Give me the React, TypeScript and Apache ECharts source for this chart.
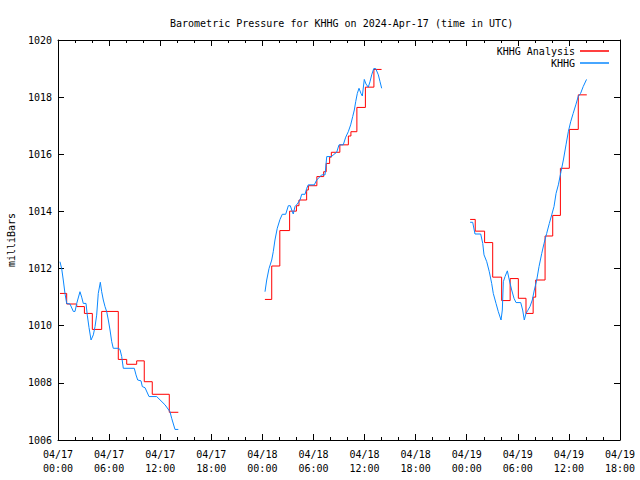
import React, { useEffect, useRef } from "react";
import * as echarts from "echarts";

// X values are hours since 2024-04-17 00:00 UTC
const xTickHours = [0, 6, 12, 18, 24, 30, 36, 42, 48, 54, 60, 66];
const yTicks = [1006, 1008, 1010, 1012, 1014, 1016, 1018, 1020];

// KHHG Analysis (red, stepped) — three periods
const redT1 = [0.23, 1.02, 2.2, 3.1, 4.03, 5.13, 7.08, 8.07, 9.24, 10.13, 11.07, 13.07, 14.13];
const redV1 = [1011.13, 1010.76, 1010.67, 1010.43, 1009.87, 1010.5, 1008.82, 1008.65, 1008.77, 1008.04, 1007.6, 1006.97, 1006.97];

const redT2 = [24.3, 25.1, 26.05, 27.2, 28.0, 28.3, 29.2, 29.4, 30.4, 31.2, 31.5, 31.9, 32.1, 33.1, 34.1, 34.4, 35.1, 36.1, 37.1, 38.0];
const redV2 = [1010.92, 1012.09, 1013.33, 1014.01, 1014.2, 1014.4, 1014.75, 1014.9, 1015.22, 1015.39, 1015.68, 1015.9, 1016.07, 1016.33, 1016.64, 1016.79, 1017.64, 1018.35, 1018.97, 1018.97];

const redT3 = [48.4, 49.0, 50.1, 51.05, 52.1, 53.1, 54.06, 54.96, 55.8, 56.1, 57.2, 58.1, 59.0, 60.05, 61.1, 62.1];
const redV3 = [1013.72, 1013.31, 1012.91, 1011.7, 1010.88, 1011.65, 1010.96, 1010.43, 1011.0, 1011.6, 1013.14, 1013.86, 1015.51, 1016.87, 1018.08, 1018.08];

// KHHG observations (blue) — three periods
const blueT1 = [0.23, 0.43, 0.62, 0.82, 1.02, 1.41, 1.8, 2.0, 2.2, 2.58, 2.78, 2.97, 3.29, 3.44, 3.64, 3.88, 4.15, 4.35, 4.54, 4.73, 4.97, 5.13, 5.32, 5.52, 5.72, 5.91, 6.11, 6.31, 6.49, 7.08, 7.28, 7.48, 7.67, 8.96, 9.16, 9.36, 9.75, 9.9, 10.22, 10.69, 11.59, 12.57, 13.15, 13.35, 13.74, 14.13];
const blueV1 = [1012.24, 1012.0, 1011.6, 1011.13, 1010.78, 1010.76, 1010.5, 1010.5, 1010.78, 1011.19, 1011.0, 1010.78, 1010.78, 1010.37, 1009.94, 1009.5, 1009.68, 1009.97, 1010.37, 1011.13, 1011.52, 1011.19, 1010.9, 1010.67, 1010.49, 1010.2, 1009.85, 1009.44, 1009.21, 1009.21, 1009.17, 1008.92, 1008.51, 1008.51, 1008.28, 1008.1, 1008.07, 1007.87, 1007.83, 1007.52, 1007.52, 1007.23, 1006.99, 1006.76, 1006.37, 1006.37];

const blueT2 = [24.31, 24.51, 24.78, 25.1, 25.28, 25.48, 25.75, 26.07, 26.34, 26.74, 27.05, 27.28, 27.52, 27.63, 27.83, 28.1, 28.42, 28.62, 29.01, 29.21, 29.39, 30.1, 30.38, 30.97, 31.36, 31.56, 32.14, 32.33, 32.73, 33.0, 33.5, 33.79, 34.09, 34.37, 34.61, 34.8, 34.96, 35.15, 35.35, 35.58, 35.74, 35.97, 36.17, 36.44, 36.64, 36.84, 37.08, 37.31, 37.62, 37.82, 38.01];
const blueV2 = [1011.19, 1011.6, 1012.0, 1012.3, 1012.59, 1013.0, 1013.41, 1013.72, 1013.9, 1013.9, 1014.2, 1014.2, 1013.99, 1013.91, 1014.17, 1014.26, 1014.4, 1014.6, 1014.6, 1014.81, 1014.93, 1014.93, 1015.1, 1015.28, 1015.28, 1015.92, 1015.92, 1015.98, 1016.07, 1016.33, 1016.33, 1016.6, 1016.79, 1017.03, 1017.32, 1017.55, 1017.84, 1018.13, 1018.31, 1018.13, 1018.04, 1018.62, 1018.46, 1018.35, 1018.54, 1018.78, 1019.0, 1019.0, 1018.78, 1018.54, 1018.31];

const blueT3 = [48.4, 48.7, 48.97, 49.64, 49.88, 50.03, 50.35, 50.65, 50.93, 51.12, 51.44, 51.71, 52.03, 52.18, 52.3, 52.5, 52.77, 53.0, 53.28, 53.55, 53.79, 54.34, 54.57, 54.76, 54.96, 55.16, 55.43, 55.7, 55.94, 56.22, 56.49, 56.81, 57.08, 57.39, 57.7, 57.98, 58.25, 58.49, 58.76, 59.07, 59.35, 59.66, 59.93, 60.21, 60.5, 60.81, 61.09, 61.37, 61.68, 62.07];
const blueV3 = [1013.62, 1013.62, 1013.21, 1013.21, 1012.88, 1012.48, 1012.24, 1011.89, 1011.48, 1011.13, 1010.78, 1010.49, 1010.2, 1010.55, 1011.54, 1011.72, 1011.92, 1011.6, 1011.25, 1010.96, 1010.81, 1010.81, 1010.55, 1010.2, 1010.43, 1010.53, 1010.67, 1010.9, 1011.25, 1011.6, 1012.07, 1012.53, 1012.88, 1013.23, 1013.58, 1013.88, 1014.17, 1014.63, 1014.93, 1015.39, 1015.8, 1016.33, 1016.79, 1017.14, 1017.43, 1017.73, 1018.02, 1018.13, 1018.37, 1018.62];

const FONT = "DejaVu Sans Mono";
const RED = "#ff0000";
const BLUE = "#0a88ff";

const zip = (t: number[], v: number[]) => t.map((x, i) => [x, v[i]]);

const fmtX = (h: number) => {
  const day = 17 + Math.floor(h / 24);
  const hh = Math.round(h % 24);
  return `04/${day}\n${hh < 10 ? "0" + hh : hh}:00`;
};

export default function App() {
  const ref = useRef<HTMLDivElement>(null);
  useEffect(() => {
    if (!ref.current) return;
    const chart = echarts.init(ref.current, undefined, { renderer: "svg" });
    const axisCommon = {
      axisLine: { show: true, onZero: false, lineStyle: { color: "#000", width: 1 } },
      splitLine: { show: false },
    };
    const redSeries = [zip(redT1, redV1), zip(redT2, redV2), zip(redT3, redV3)].map((d) => ({
      type: "line",
      name: "KHHG Analysis",
      data: d,
      step: "end",
      showSymbol: false,
      symbol: "none",
      lineStyle: { color: RED, width: 1 },
      itemStyle: { color: RED },
      z: 2,
    }));
    const blueSeries = [zip(blueT1, blueV1), zip(blueT2, blueV2), zip(blueT3, blueV3)].map((d) => ({
      type: "line",
      name: "KHHG",
      data: d,
      showSymbol: false,
      symbol: "none",
      lineStyle: { color: BLUE, width: 1 },
      itemStyle: { color: BLUE },
      z: 3,
    }));
    const legendCommon = {
      right: 26,
      align: "right",
      icon: "rect",
      itemWidth: 29,
      itemHeight: 1.5,
      textStyle: { fontFamily: FONT, fontSize: 10, color: "#000" },
      selectedMode: false,
    };
    chart.setOption({
      animation: false,
      backgroundColor: "#fff",
      title: {
        text: "Barometric Pressure for KHHG on 2024-Apr-17 (time in UTC)",
        left: 165,
        top: 13,
        textStyle: { fontFamily: FONT, fontSize: 10, fontWeight: "normal", color: "#000" },
      },
      legend: [
        { ...legendCommon, data: ["KHHG Analysis"], top: 41 },
        { ...legendCommon, data: ["KHHG"], top: 53 },
      ],
      grid: { left: 58, right: 20, top: 40, bottom: 40, containLabel: false, outerBoundsMode: "none" },
      xAxis: [
        {
          type: "value",
          min: xTickHours[0],
          max: xTickHours[xTickHours.length - 1],
          interval: 6,
          position: "bottom",
          ...axisCommon,
          axisTick: { show: true, inside: true, length: 6, lineStyle: { color: "#000" } },
          minorTick: { show: true, splitNumber: 3, length: 3, lineStyle: { color: "#000" } },
          minorSplitLine: { show: false },
          axisLabel: {
            formatter: (v: number) => fmtX(v),
            fontFamily: FONT,
            fontSize: 10,
            color: "#000",
            lineHeight: 14,
            margin: 7,
            showMinLabel: true,
            showMaxLabel: true,
          },
        },
        {
          type: "value",
          min: xTickHours[0],
          max: xTickHours[xTickHours.length - 1],
          interval: 6,
          position: "top",
          ...axisCommon,
          axisTick: { show: true, inside: true, length: 6, lineStyle: { color: "#000" } },
          minorTick: { show: true, splitNumber: 3, length: 3, lineStyle: { color: "#000" } },
          minorSplitLine: { show: false },
          axisLabel: { show: false },
        },
      ],
      yAxis: [
        {
          type: "value",
          min: yTicks[0],
          max: yTicks[yTicks.length - 1],
          interval: 2,
          position: "left",
          name: "milliBars",
          nameLocation: "middle",
          nameGap: 42,
          nameTextStyle: { fontFamily: FONT, fontSize: 10, color: "#000" },
          ...axisCommon,
          axisTick: { show: true, inside: true, length: 6, lineStyle: { color: "#000" } },
          axisLabel: {
            fontFamily: FONT,
            fontSize: 10,
            color: "#000",
            margin: 6,
            formatter: (v: number) => String(v),
          },
        },
        {
          type: "value",
          min: yTicks[0],
          max: yTicks[yTicks.length - 1],
          interval: 2,
          position: "right",
          ...axisCommon,
          axisTick: { show: true, inside: true, length: 6, lineStyle: { color: "#000" } },
          axisLabel: { show: false },
        },
      ],
      series: [...redSeries, ...blueSeries],
    });
    return () => chart.dispose();
  }, []);
  return (
    <div
      ref={ref}
      style={{ position: "fixed", left: 0, top: 0, width: 640, height: 480, background: "#fff" }}
    />
  );
}
